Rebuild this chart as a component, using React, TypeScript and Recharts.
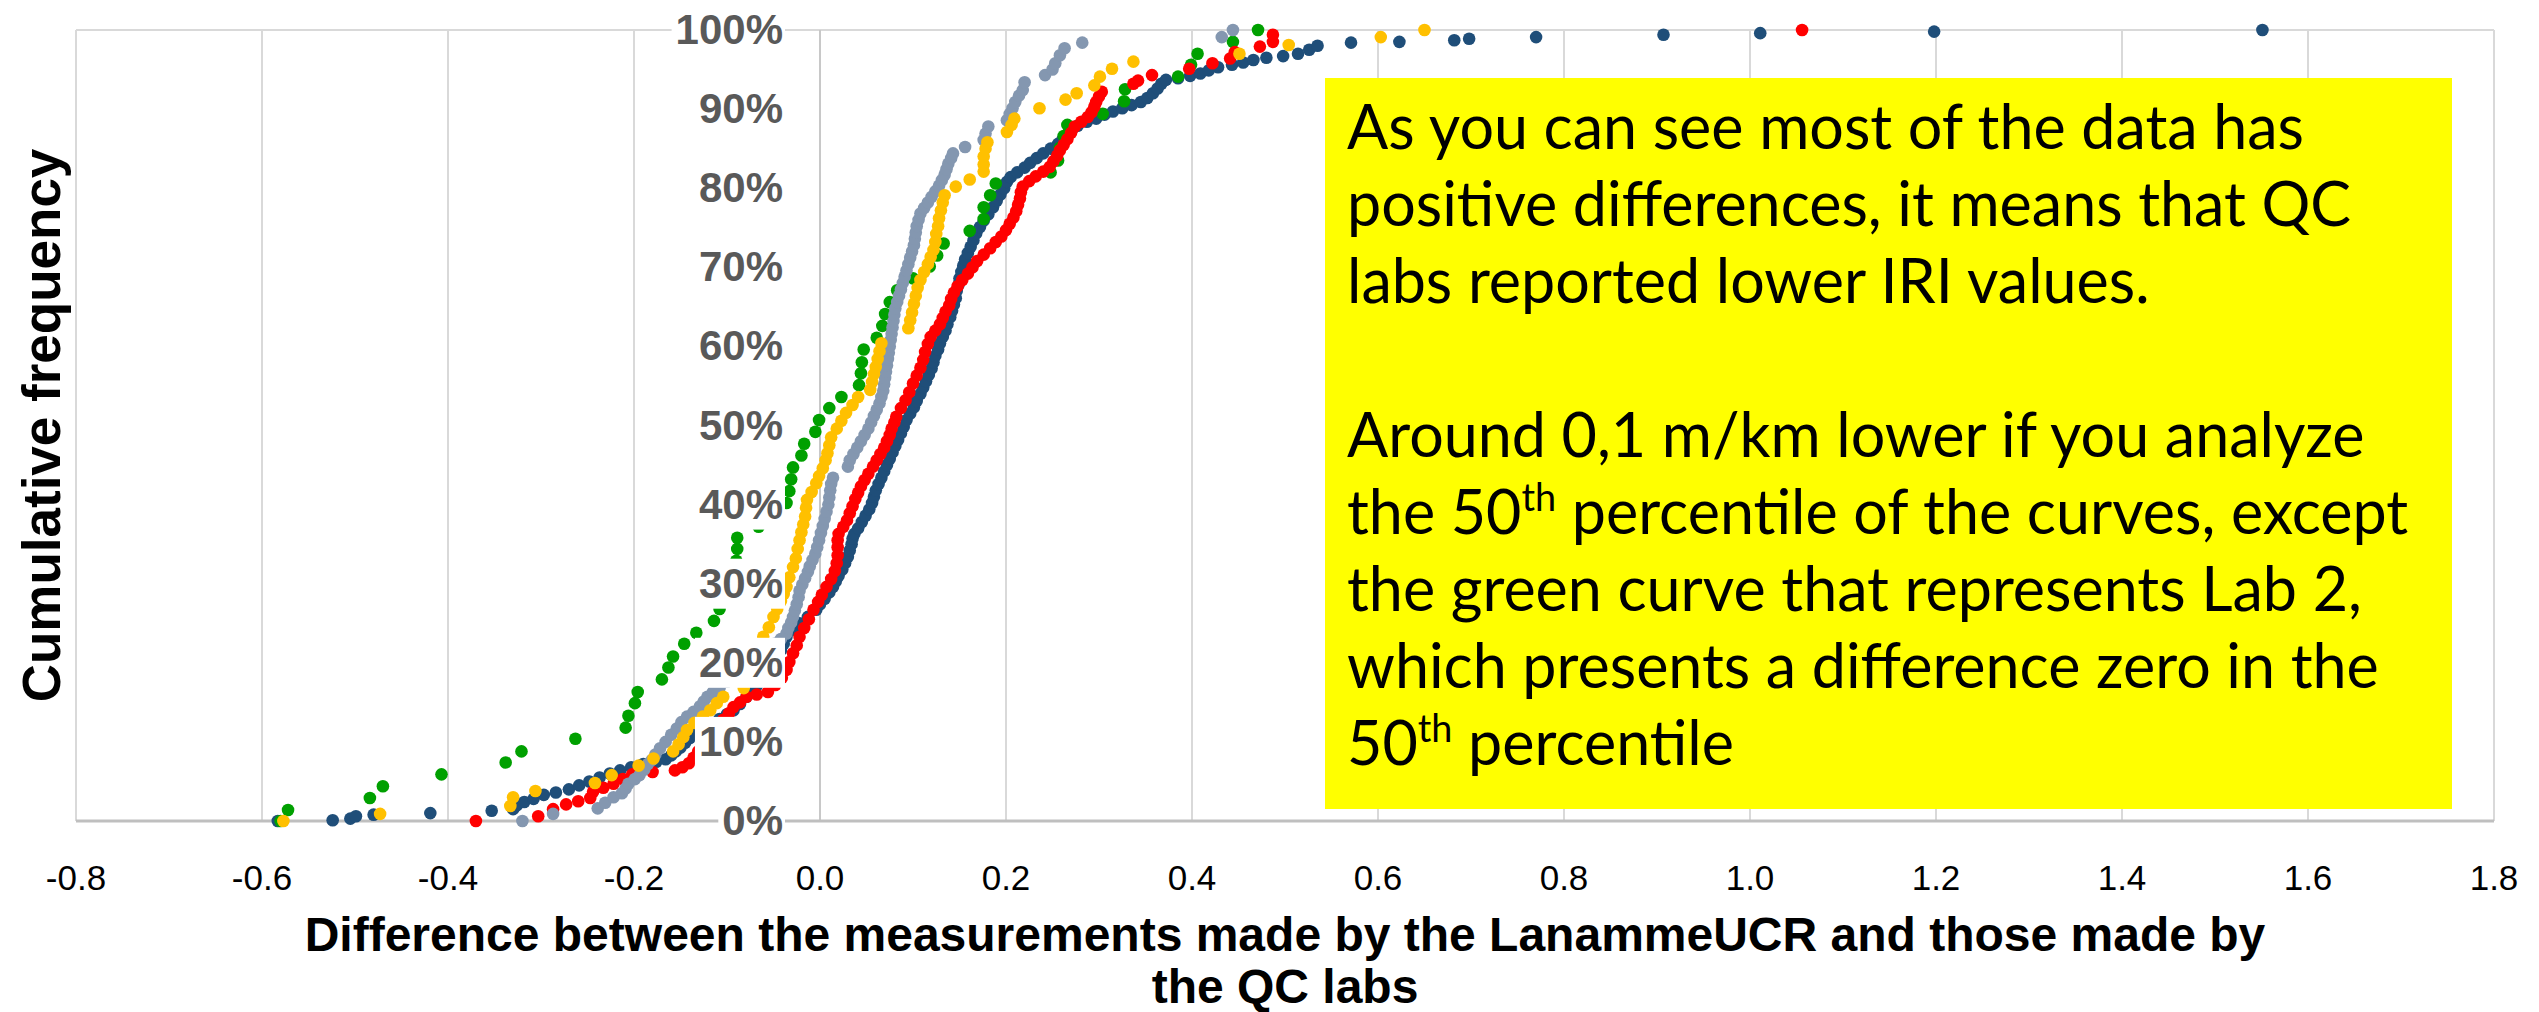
import React from 'react';
import {
  ScatterChart,
  Scatter,
  XAxis,
  YAxis,
  CartesianGrid,
  ReferenceLine,
  ReferenceDot,
} from 'recharts';

// ---------- axis ticks ----------
const xTicks = [-0.8, -0.6, -0.4, -0.2, 0, 0.2, 0.4, 0.6, 0.8, 1.0, 1.2, 1.4, 1.6, 1.8];
const yTicks = [0, 10, 20, 30, 40, 50, 60, 70, 80, 90, 100];

// ---------- series: [difference, cumulative frequency %] ----------
const labDarkBlue: [number, number][] = [
  [-0.583, 0], [-0.524, 0.1], [-0.505, 0.3], [-0.499, 0.6], [-0.48, 0.8], [-0.419, 1.0], [-0.353, 1.3], [-0.33, 1.5],
  [-0.326, 2.0], [-0.318, 2.4], [-0.308, 2.8], [-0.297, 3.3], [-0.284, 3.6], [-0.27, 4.0], [-0.259, 4.5], [-0.248, 5.0],
  [-0.237, 5.5], [-0.226, 6.0], [-0.215, 6.4], [-0.203, 6.8], [-0.19, 7.2], [-0.176, 7.5], [-0.166, 7.8], [-0.16, 8.3],
  [-0.155, 8.8], [-0.15, 9.3], [-0.145, 9.9], [-0.14, 10.5], [-0.134, 11.1], [-0.126, 11.7], [-0.117, 12.3], [-0.108, 12.9],
  [-0.1, 13.5], [-0.093, 14.0], [-0.086, 14.8], [-0.079, 15.7], [-0.073, 16.4], [-0.068, 17.1], [-0.064, 17.8], [-0.059, 18.5],
  [-0.055, 19.2], [-0.05, 20.0], [-0.046, 20.8], [-0.042, 21.6], [-0.039, 22.4], [-0.036, 23.3], [-0.029, 24.2], [-0.022, 25.0],
  [-0.013, 25.8], [-0.004, 26.7], [0.0, 27.4], [0.005, 28.1], [0.01, 28.9], [0.014, 29.6], [0.017, 30.3], [0.02, 31.0],
  [0.024, 31.8], [0.027, 32.6], [0.03, 33.4], [0.032, 34.2], [0.034, 35.0], [0.035, 35.7], [0.037, 36.3], [0.041, 37.0],
  [0.045, 37.8], [0.049, 38.6], [0.053, 39.4], [0.056, 40.2], [0.058, 41.0], [0.06, 41.8], [0.063, 42.6], [0.066, 43.4],
  [0.069, 44.2], [0.072, 45.0], [0.075, 45.8], [0.078, 46.6], [0.081, 47.4], [0.084, 48.2], [0.087, 49.0], [0.09, 49.8],
  [0.093, 50.7], [0.097, 51.5], [0.101, 52.3], [0.104, 53.1], [0.108, 54.0], [0.111, 54.8], [0.114, 55.6], [0.117, 56.4],
  [0.12, 57.2], [0.122, 58.0], [0.124, 58.8], [0.127, 59.6], [0.129, 60.4], [0.132, 61.2], [0.135, 62.0], [0.137, 62.8],
  [0.14, 63.7], [0.142, 64.5], [0.144, 65.3], [0.146, 66.1], [0.147, 67.0], [0.149, 67.8], [0.15, 68.6], [0.152, 69.4],
  [0.154, 70.2], [0.156, 71.0], [0.159, 71.8], [0.162, 72.6], [0.165, 73.4], [0.168, 74.3], [0.172, 75.1], [0.176, 75.9],
  [0.181, 76.7], [0.186, 77.6], [0.19, 78.4], [0.194, 79.2], [0.198, 80.0], [0.201, 80.8], [0.205, 81.4], [0.212, 82.0],
  [0.22, 82.6], [0.226, 83.2], [0.233, 83.8], [0.24, 84.4], [0.248, 85.0], [0.256, 85.6], [0.261, 86.2], [0.266, 86.8],
  [0.271, 87.4], [0.277, 87.9], [0.287, 88.4], [0.297, 88.8], [0.306, 89.3], [0.315, 89.7], [0.325, 90.1], [0.335, 90.5],
  [0.345, 90.9], [0.352, 91.4], [0.358, 92.0], [0.363, 92.6], [0.367, 93.2], [0.372, 93.7], [0.385, 93.9], [0.398, 94.2],
  [0.409, 94.5], [0.418, 94.9], [0.428, 95.3], [0.443, 95.6], [0.455, 95.9], [0.466, 96.2], [0.48, 96.5], [0.498, 96.7],
  [0.514, 97.0], [0.526, 97.5], [0.535, 98.0], [0.571, 98.4], [0.623, 98.5], [0.682, 98.7], [0.698, 98.9], [0.77, 99.1],
  [0.907, 99.4], [1.011, 99.6], [1.198, 99.8], [1.551, 100],
];

const labGreen: [number, number][] = [
  [-0.58, 0], [-0.572, 1.4], [-0.484, 2.9], [-0.47, 4.4], [-0.407, 5.9], [-0.338, 7.4], [-0.321, 8.8], [-0.263, 10.4],
  [-0.209, 11.8], [-0.206, 13.3], [-0.199, 14.9], [-0.196, 16.3], [-0.17, 17.9], [-0.163, 19.4], [-0.158, 20.8], [-0.146, 22.4],
  [-0.133, 23.8], [-0.114, 25.3], [-0.108, 26.8], [-0.103, 28.3], [-0.099, 29.8], [-0.095, 31.3], [-0.09, 32.9], [-0.089, 34.4],
  [-0.089, 35.8], [-0.066, 37.2], [-0.05, 38.7], [-0.036, 40.2], [-0.033, 41.7], [-0.031, 43.2], [-0.029, 44.7], [-0.02, 46.2],
  [-0.017, 47.7], [-0.005, 49.2], [-0.001, 50.7], [0.01, 52.2], [0.023, 53.6], [0.042, 55.1], [0.044, 56.6], [0.045, 58.0],
  [0.047, 59.6], [0.061, 61.1], [0.067, 62.6], [0.07, 64.1], [0.075, 65.6], [0.083, 67.1], [0.1, 68.6], [0.118, 70.1],
  [0.126, 71.5], [0.133, 73.0], [0.161, 74.6], [0.176, 76.1], [0.176, 77.6], [0.183, 79.1], [0.189, 80.6], [0.248, 82.0],
  [0.256, 83.5], [0.258, 85.1], [0.262, 86.6], [0.266, 88.0], [0.304, 89.4], [0.327, 91.0], [0.328, 92.5], [0.385, 94.1],
  [0.399, 95.6], [0.406, 97.0], [0.444, 98.5], [0.471, 100],
];

const labRed: [number, number][] = [
  [-0.37, 0], [-0.303, 0.6], [-0.287, 1.5], [-0.273, 2.1], [-0.26, 2.5], [-0.247, 2.9], [-0.244, 3.7], [-0.233, 4.2],
  [-0.222, 4.7], [-0.212, 5.3], [-0.202, 5.9], [-0.18, 6.2], [-0.156, 6.4], [-0.148, 6.8], [-0.141, 7.3], [-0.136, 8.0],
  [-0.131, 8.8], [-0.126, 9.6], [-0.121, 10.4], [-0.116, 11.2], [-0.11, 12.0], [-0.104, 12.8], [-0.098, 13.6], [-0.093, 14.4],
  [-0.086, 15.0], [-0.079, 15.7], [-0.068, 16.0], [-0.056, 16.3], [-0.048, 17.2], [-0.041, 18.1], [-0.036, 19.1], [-0.033, 20.1],
  [-0.029, 21.2], [-0.025, 22.2], [-0.022, 23.3], [-0.017, 24.4], [-0.012, 25.5], [-0.007, 26.7], [-0.002, 27.7], [0.002, 28.6],
  [0.007, 29.6], [0.012, 30.6], [0.016, 31.6], [0.018, 32.6], [0.019, 33.6], [0.019, 34.6], [0.019, 35.5], [0.02, 36.3],
  [0.025, 37.2], [0.029, 38.0], [0.032, 38.9], [0.035, 39.8], [0.038, 40.7], [0.041, 41.5], [0.044, 42.3], [0.048, 43.1],
  [0.052, 43.9], [0.057, 44.8], [0.061, 45.6], [0.065, 46.4], [0.069, 47.2], [0.072, 48.0], [0.075, 48.8], [0.077, 49.6],
  [0.08, 50.4], [0.082, 51.1], [0.087, 52.2], [0.092, 53.2], [0.096, 54.2], [0.1, 55.3], [0.104, 56.3], [0.108, 57.3],
  [0.111, 58.3], [0.113, 59.3], [0.116, 60.3], [0.119, 61.2], [0.124, 62.0], [0.129, 62.8], [0.132, 63.6], [0.135, 64.4],
  [0.139, 65.2], [0.141, 66.0], [0.144, 66.8], [0.148, 67.6], [0.153, 68.4], [0.159, 69.2], [0.164, 70.0], [0.169, 70.8],
  [0.176, 71.6], [0.183, 72.4], [0.189, 73.2], [0.195, 73.9], [0.2, 74.7], [0.204, 75.5], [0.208, 76.3], [0.211, 77.1],
  [0.213, 77.9], [0.215, 78.7], [0.216, 79.5], [0.218, 80.2], [0.225, 80.9], [0.232, 81.5], [0.24, 82.1], [0.247, 82.7],
  [0.251, 83.4], [0.255, 84.1], [0.258, 84.8], [0.262, 85.5], [0.266, 86.2], [0.27, 87.0], [0.274, 87.8], [0.281, 88.4],
  [0.288, 89.0], [0.292, 89.6], [0.295, 90.3], [0.297, 90.9], [0.3, 91.6], [0.303, 92.2], [0.337, 93.2], [0.342, 93.6],
  [0.357, 94.3], [0.397, 95.1], [0.422, 95.8], [0.441, 96.4], [0.446, 97.2], [0.473, 97.9], [0.487, 98.5], [0.487, 99.4],
  [1.056, 100],
];

const labGray: [number, number][] = [
  [-0.32, 0], [-0.287, 0.9], [-0.239, 1.6], [-0.231, 2.3], [-0.222, 3.0], [-0.213, 3.5], [-0.209, 4.1], [-0.206, 4.7],
  [-0.199, 5.3], [-0.194, 5.8], [-0.189, 6.5], [-0.185, 7.2], [-0.181, 7.7], [-0.177, 8.4], [-0.172, 9.2], [-0.166, 10.0],
  [-0.16, 10.9], [-0.154, 11.7], [-0.149, 12.5], [-0.143, 13.2], [-0.136, 13.8], [-0.129, 14.5], [-0.125, 15.1], [-0.121, 15.7],
  [-0.115, 16.3], [-0.108, 16.8], [-0.1, 17.6], [-0.091, 18.4], [-0.083, 19.2], [-0.075, 20.0], [-0.067, 20.8], [-0.058, 21.6],
  [-0.049, 22.4], [-0.042, 23.0], [-0.036, 23.7], [-0.034, 24.4], [-0.031, 25.1], [-0.029, 25.8], [-0.027, 26.6], [-0.025, 27.4],
  [-0.023, 28.3], [-0.022, 29.1], [-0.019, 29.9], [-0.016, 30.7], [-0.013, 31.5], [-0.011, 32.2], [-0.008, 33.0], [-0.005, 33.8],
  [-0.003, 34.6], [-0.001, 35.5], [0.001, 36.4], [0.003, 37.3], [0.005, 38.2], [0.007, 39.1], [0.009, 40.0], [0.01, 40.9],
  [0.011, 41.8], [0.012, 42.6], [0.014, 43.4], [0.03, 44.8], [0.032, 45.6], [0.036, 46.4], [0.04, 47.2], [0.044, 48.0],
  [0.048, 48.8], [0.052, 49.6], [0.055, 50.4], [0.058, 51.2], [0.061, 52.0], [0.064, 52.8], [0.066, 53.6], [0.068, 54.4],
  [0.069, 55.2], [0.07, 56.0], [0.071, 56.8], [0.072, 57.6], [0.073, 58.4], [0.074, 59.2], [0.075, 60.0], [0.076, 60.8],
  [0.077, 61.6], [0.078, 62.4], [0.079, 63.2], [0.08, 64.0], [0.081, 64.8], [0.083, 65.6], [0.085, 66.4], [0.087, 67.2],
  [0.089, 68.0], [0.091, 68.8], [0.093, 69.6], [0.095, 70.4], [0.097, 71.2], [0.099, 72.0], [0.101, 72.8], [0.102, 73.6],
  [0.103, 74.4], [0.104, 75.2], [0.106, 76.0], [0.108, 76.8], [0.112, 77.5], [0.116, 78.2], [0.12, 78.9], [0.124, 79.6],
  [0.128, 80.3], [0.131, 81.0], [0.134, 81.7], [0.136, 82.4], [0.138, 83.1], [0.141, 83.8], [0.143, 84.4], [0.156, 85.2],
  [0.176, 86.1], [0.178, 86.9], [0.181, 87.8], [0.201, 88.6], [0.204, 89.4], [0.207, 90.1], [0.21, 90.9], [0.214, 91.7],
  [0.218, 92.4], [0.22, 93.4], [0.242, 94.3], [0.25, 95.0], [0.253, 95.8], [0.258, 96.8], [0.263, 97.7], [0.282, 98.4],
  [0.432, 99.1], [0.444, 100],
];

const labYellow: [number, number][] = [
  [-0.577, 0], [-0.473, 0.9], [-0.333, 1.9], [-0.33, 3.0], [-0.306, 3.8], [-0.242, 4.8], [-0.224, 5.8], [-0.195, 7.0],
  [-0.179, 7.9], [-0.158, 8.8], [-0.152, 9.7], [-0.147, 10.6], [-0.143, 11.5], [-0.135, 12.4], [-0.126, 13.2], [-0.118, 14.0],
  [-0.111, 14.9], [-0.104, 15.7], [-0.082, 16.8], [-0.078, 17.7], [-0.074, 18.6], [-0.071, 19.5], [-0.068, 20.4], [-0.065, 21.4],
  [-0.063, 22.3], [-0.061, 23.3], [-0.055, 24.5], [-0.05, 25.8], [-0.046, 26.8], [-0.042, 27.8], [-0.039, 28.7], [-0.036, 29.6],
  [-0.033, 30.8], [-0.029, 32.1], [-0.026, 33.2], [-0.024, 34.4], [-0.022, 35.5], [-0.02, 36.5], [-0.018, 37.5], [-0.016, 38.5],
  [-0.015, 39.6], [-0.014, 40.6], [-0.009, 41.6], [-0.004, 42.7], [-0.001, 43.6], [0.003, 44.6], [0.006, 45.6], [0.008, 46.5],
  [0.01, 47.5], [0.012, 48.5], [0.018, 49.6], [0.023, 50.6], [0.028, 51.6], [0.035, 52.6], [0.041, 53.6], [0.054, 54.5],
  [0.056, 55.5], [0.058, 56.5], [0.06, 57.4], [0.062, 58.4], [0.064, 59.4], [0.066, 60.4], [0.095, 62.3], [0.097, 63.3],
  [0.099, 64.3], [0.101, 65.4], [0.103, 66.4], [0.105, 67.4], [0.108, 68.4], [0.112, 69.4], [0.116, 70.4], [0.119, 71.3],
  [0.122, 72.2], [0.124, 73.2], [0.125, 74.2], [0.127, 75.2], [0.128, 76.2], [0.13, 77.2], [0.132, 78.2], [0.134, 79.1],
  [0.146, 80.2], [0.161, 81.1], [0.176, 82.1], [0.176, 83.0], [0.176, 84.0], [0.178, 85.0], [0.18, 85.8], [0.201, 87.1],
  [0.206, 88.0], [0.209, 88.8], [0.236, 90.1], [0.264, 91.2], [0.276, 92.0], [0.295, 93.0], [0.301, 94.1], [0.314, 95.1],
  [0.337, 96.0], [0.451, 97.0], [0.504, 98.1], [0.603, 99.1], [0.65, 100],
];

// drawing order bottom -> top
const seriesList = [
  { name: 'Lab dark blue', color: '#1F4E79', points: labDarkBlue },
  { name: 'Lab 2', color: '#00A000', points: labGreen },
  { name: 'Lab red', color: '#FF0000', points: labRed },
  { name: 'Lab gray', color: '#8497B0', points: labGray },
  { name: 'Lab yellow', color: '#FFC000', points: labYellow },
];

const noteLines = [
  'As you can see most of the data has',
  'positive differences, it means that QC',
  'labs reported lower IRI values.',
  '',
  'Around 0,1 m/km lower if you analyze',
  'the 50^th percentile of the curves, except',
  'the green curve that represents Lab 2,',
  'which presents a difference zero in the',
  '50^th percentile',
];

const xTitleLines = [
  'Difference between the measurements made by the LanammeUCR and those made by',
  'the QC labs',
];
const yTitle = 'Cumulative frequency';

const ARIAL = '"Liberation Sans", Arial, sans-serif';

const makeDot = (color: string) => (props: any) => {
  if (props.cx == null || props.cy == null) return <g />;
  return <circle cx={props.cx} cy={props.cy} r={6.3} fill={color} />;
};

const yLabelRenderer = (value: number) => (props: any) => {
  const vb = props.viewBox || {};
  const cx = (vb.x || 0) + (vb.width || 0) / 2;
  const cy = (vb.y || 0) + (vb.height || 0) / 2;
  const text = `${value}%`;
  const fs = 42;
  const digits = text.length - 1;
  const w = (digits * 0.556 + 0.889) * fs;
  const right = cx - 37;
  return (
    <g>
      <rect x={right - w - 4} y={cy - 25} width={w + 6} height={50} fill="#ffffff" />
      <text
        x={right}
        y={cy + 14}
        textAnchor="end"
        fontFamily={ARIAL}
        fontWeight="bold"
        fontSize={fs}
        fill="#595959"
      >
        {text}
      </text>
    </g>
  );
};

const renderNoteLine = (line: string) => {
  if (!line) return '\u00a0';
  const parts = line.split('^th');
  if (parts.length === 1) return line;
  return (
    <>
      {parts[0]}
      <sup style={{ fontSize: '0.62em', lineHeight: 0, verticalAlign: '0.62em' }}>th</sup>
      {parts[1]}
    </>
  );
};

export default function App() {
  return (
    <div style={{ position: 'absolute', left: 0, top: 0, width: 2539, height: 1012, background: '#ffffff' }}>
      <ScatterChart width={2539} height={1012} margin={{ top: 30, right: 45, left: 0, bottom: 0 }}>
        <CartesianGrid stroke="#d9d9d9" strokeWidth={2} />
        <XAxis
          type="number"
          dataKey="x"
          domain={[-0.8, 1.8]}
          ticks={xTicks}
          allowDataOverflow
          interval={0}
          height={191}
          tickLine={false}
          tickSize={0}
          tickMargin={44}
          axisLine={{ stroke: '#bfbfbf', strokeWidth: 3 }}
          tickFormatter={(v: number) => v.toFixed(1)}
          tick={{ fontSize: 35, fill: '#000000', fontFamily: ARIAL }}
          label={(props: any) => {
            const vb = props.viewBox || {};
            const cx = (vb.x || 0) + (vb.width || 0) / 2;
            const top = vb.y || 0;
            return (
              <g>
                {xTitleLines.map((t, i) => (
                  <text
                    key={i}
                    x={cx}
                    y={top + 130 + i * 52}
                    textAnchor="middle"
                    fontFamily={ARIAL}
                    fontWeight="bold"
                    fontSize={48}
                    fill="#000000"
                  >
                    {t}
                  </text>
                ))}
              </g>
            );
          }}
        />
        <YAxis
          type="number"
          dataKey="y"
          domain={[0, 100]}
          ticks={yTicks}
          width={76}
          tick={false}
          tickLine={false}
          axisLine={false}
          label={(props: any) => {
            const vb = props.viewBox || {};
            const cy = (vb.y || 0) + (vb.height || 0) / 2;
            const bx = (vb.x || 0) + 60;
            return (
              <text
                x={bx}
                y={cy}
                transform={`rotate(-90 ${bx} ${cy})`}
                textAnchor="middle"
                fontFamily={ARIAL}
                fontWeight="bold"
                fontSize={53}
                fill="#000000"
              >
                {yTitle}
              </text>
            );
          }}
        />
        <ReferenceLine x={0} stroke="#c8c8c8" strokeWidth={2} />
        {seriesList.map((s) => (
          <Scatter
            key={s.name}
            name={s.name}
            data={s.points.map(([x, y]) => ({ x, y }))}
            fill={s.color}
            shape={makeDot(s.color)}
            isAnimationActive={false}
          />
        ))}
        {yTicks.map((t) => (
          <ReferenceDot
            key={`yl${t}`}
            x={0}
            y={t}
            r={0}
            fill="none"
            stroke="none"
            ifOverflow="visible"
            label={yLabelRenderer(t)}
          />
        ))}
      </ScatterChart>
      <div
        style={{
          position: 'absolute',
          left: 1325,
          top: 78,
          width: 1127,
          height: 731,
          background: '#FFFF00',
          boxSizing: 'border-box',
          paddingLeft: 22,
          paddingTop: 9,
          fontFamily: 'Lato, "Open Sans", sans-serif',
          fontSize: 61,
          lineHeight: '77px',
          color: '#000000',
          overflow: 'hidden',
        }}
      >
        {noteLines.map((l, i) => (
          <div key={i} style={{ height: 77, whiteSpace: 'nowrap' }}>
            {renderNoteLine(l)}
          </div>
        ))}
      </div>
    </div>
  );
}
